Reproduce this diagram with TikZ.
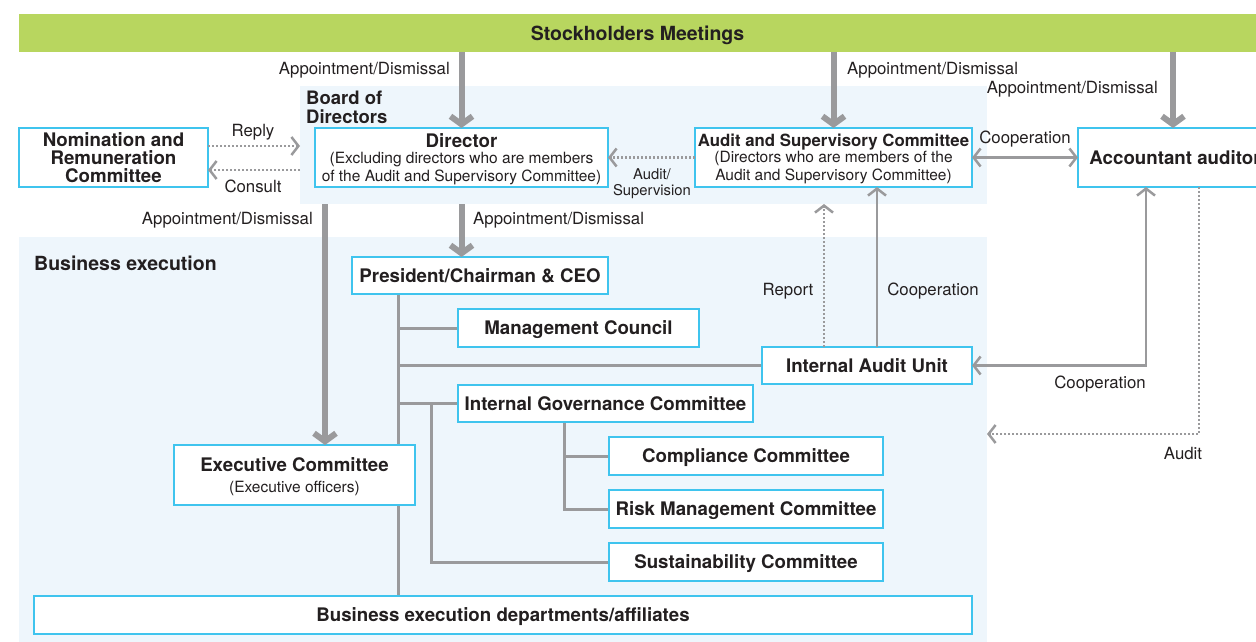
\documentclass[tikz,border=0pt]{standalone}
\usepackage{fontspec}
\setmainfont{TeX Gyre Heros}
\usetikzlibrary{arrows.meta,calc}
\pgfdeclarelayer{back}
\pgfdeclarelayer{mid}
\pgfsetlayers{back,mid,main}
\definecolor{greenc}{HTML}{B8D65F}
\definecolor{regc}{HTML}{EEF6FC}
\definecolor{boxc}{HTML}{3FC4EE}
\definecolor{grayc}{HTML}{9A9A9C}
\definecolor{txt}{HTML}{231F20}
\newcommand\mysub[1]{{\mdseries\fontsize{15.5}{18}\selectfont #1}}
\begin{document}
\begin{tikzpicture}[x=1pt,y=-1pt,
  box/.style={draw=boxc, line width=1.3pt, fill=white, inner sep=0pt, outer sep=0pt, anchor=north west, align=center, text=txt, text depth=0pt, font=\bfseries\fontsize{18.7}{18}\selectfont},
  region/.style={fill=regc, inner sep=0pt, outer sep=0pt, anchor=north west},
  lbl/.style={text=txt, inner sep=0pt, font=\fontsize{16.8}{19}\selectfont},
  thickarr/.style={draw=grayc, line width=6pt, -{Straight Barb[length=8pt,width=22pt]}},
  thinarr/.style={draw=grayc, line width=2.5pt, -{Straight Barb[length=7pt,width=18pt]}},
  dotarr/.style={thinarr, dash pattern=on 2pt off 2pt},
  tree/.style={draw=grayc, line width=3pt}]
\useasboundingbox (0,0) rectangle (1256,642);
\begin{pgfonlayer}{back}
\node[region, fill=greenc, minimum width=1237, minimum height=38, text=txt, text depth=0pt, font=\bfseries\fontsize{19.5}{20}\selectfont] (sh) at (19,14) {Stockholders Meetings};
\node[region, minimum width=687, minimum height=118] (board) at (300,86) {};
\node[region, minimum width=968, minimum height=405] (biz) at (19,237) {};
\end{pgfonlayer}
\node[anchor=north west, inner sep=0pt, align=left, text=txt, font=\bfseries\fontsize{18.5}{19}\selectfont] (boardlbl) at (306,91) {Board of\\Directors};
\node[anchor=west, inner sep=0pt, text=txt, font=\bfseries\fontsize{19.5}{20}\selectfont] (bizlbl) at (34,263) {Business execution};
% boxes
\node[box, minimum width=189, minimum height=59] (nom) at (19,128) {Nomination and\\Remuneration\\Committee};
\node[box, minimum width=293, minimum height=59] (dir) at (315,128) {Director\\[-2pt]\mysub{(Excluding directors who are members}\\\mysub{of the Audit and Supervisory Committee)}};
\node[box, minimum width=277, minimum height=59] (asc) at (695,128) {{\fontsize{16.8}{18}\selectfont Audit and Supervisory Committee}\\[-2pt]\mysub{(Directors who are members of the}\\\mysub{Audit and Supervisory Committee)}};
\node[box, minimum width=194, minimum height=59] (acc) at (1078,128) {Accountant auditor};
\node[box, minimum width=256, minimum height=37] (pres) at (352,257) {President/Chairman \& CEO};
\node[box, minimum width=241, minimum height=38] (mc) at (458,309) {Management Council};
\node[box, minimum width=210, minimum height=37] (iau) at (762,347) {Internal Audit Unit};
\node[box, minimum width=295, minimum height=37] (igc) at (458,385) {Internal Governance Committee};
\node[box, minimum width=274, minimum height=38] (comp) at (609,437) {Compliance Committee};
\node[box, minimum width=274, minimum height=38] (risk) at (609,490) {Risk Management Committee};
\node[box, minimum width=274, minimum height=38] (sust) at (609,543) {Sustainability Committee};
\node[box, minimum width=241, minimum height=60] (exec) at (174,445) {Executive Committee\\[3pt]\mysub{(Executive officers)}};
\node[box, minimum width=938, minimum height=38] (bed) at (34,596) {Business execution departments/affiliates};
% helper coordinates
\coordinate (x325) at (325,0);
\coordinate (x398) at (398,0);
\coordinate (x431) at (431,0);
\coordinate (x564) at (564,0);
\coordinate (x824) at (824,0);
\coordinate (x877) at (877,0);
\coordinate (x1146) at (1146,0);
\coordinate (x1173) at (1173,0);
\coordinate (x1199) at (1199,0);
\coordinate (y146) at (0,146);
\coordinate (y170) at (0,170);
\coordinate (y434) at (0,434);
\begin{pgfonlayer}{mid}
\draw[tree] (pres.south -| x398) -- (bed.north -| x398);
\draw[tree] (x398 |- mc.west) -- (mc.west);
\draw[tree] (x398 |- iau.west) -- (iau.west);
\draw[tree] (x398 |- igc.west) -- (igc.west);
\draw[tree] (x431 |- igc.west) -- (x431 |- sust.west) -- (sust.west);
\draw[tree] (x564 |- igc.south) -- (x564 |- risk.west) -- (risk.west);
\draw[tree] (x564 |- comp.west) -- (comp.west);
\end{pgfonlayer}
% thick arrows
\draw[thickarr] (sh.south -| dir.north) -- (dir.north);
\draw[thickarr] (sh.south -| asc.north) -- (asc.north);
\draw[thickarr] (sh.south -| x1173) -- (acc.north -| x1173);
\draw[thickarr] (board.south -| dir.south) -- (pres.north -| dir.south);
\draw[thickarr] (board.south -| x325) -- (exec.north -| x325);
% thin arrows
\draw[dotarr] (nom.east |- y146) -- (board.west |- y146);
\draw[dotarr] (board.west |- y170) -- (nom.east |- y170);
\draw[dotarr] (asc.west) -- (dir.east);
\draw[thinarr, {Straight Barb[length=7pt,width=18pt]}-{Straight Barb[length=7pt,width=18pt]}] (asc.east) -- (acc.west);
\draw[dotarr] (iau.north -| x824) -- (board.south -| x824);
\draw[thinarr] (iau.north -| x877) -- (asc.south -| x877);
\draw[thinarr, {Straight Barb[length=7pt,width=18pt]}-{Straight Barb[length=7pt,width=18pt]}] (acc.south -| x1146) |- (iau.east);
\draw[dotarr] (acc.south -| x1199) |- (biz.east |- y434);
% labels
\node[lbl, anchor=east] (l1) at (450,70) {Appointment/Dismissal};
\node[lbl, anchor=west] (l2) at (847,70) {Appointment/Dismissal};
\node[lbl, anchor=east] (l3) at (1158,89) {Appointment/Dismissal};
\node[lbl, anchor=west] (l4) at (473,220) {Appointment/Dismissal};
\node[lbl, anchor=east] (l5) at (313,220) {Appointment/Dismissal};
\node[lbl] (lrep) at (253,132) {Reply};
\node[lbl] (lcon) at (253,186) {Consult};
\node[lbl, align=center, font=\fontsize{14.8}{16}\selectfont] (lasv) at (652,184) {Audit/\\Supervision};
\node[lbl] (lco1) at (1025,139) {Cooperation};
\node[lbl] (lrpt) at (788,291) {Report};
\node[lbl] (lco2) at (933,291) {Cooperation};
\node[lbl] (lco3) at (1100,384) {Cooperation};
\node[lbl] (laud) at (1183,453) {Audit};
\end{tikzpicture}
\end{document}
